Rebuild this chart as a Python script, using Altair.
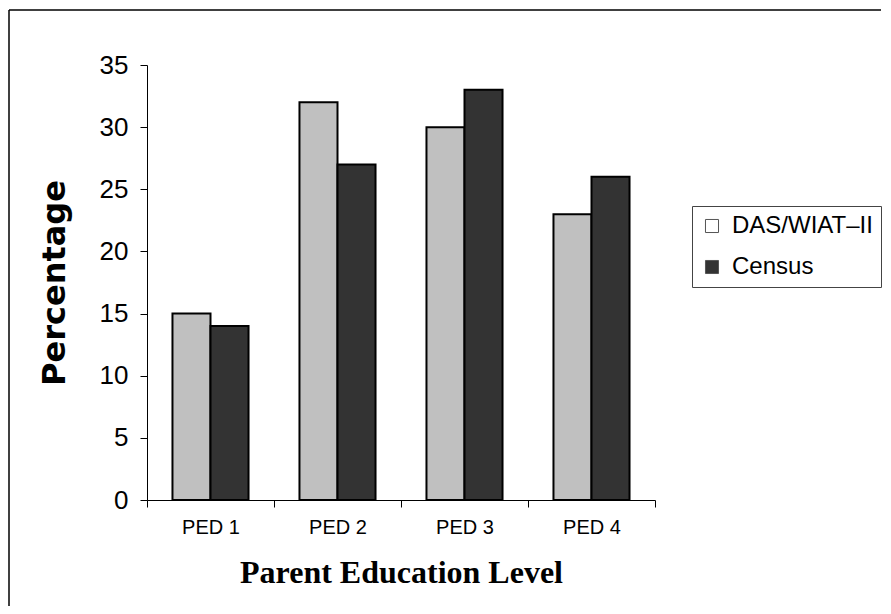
import altair as alt
import pandas as pd

levels = ["PED 1", "PED 2", "PED 3", "PED 4"]
series = ["DAS/WIAT–II", "Census"]
das_wiat = [15, 32, 30, 23]
census = [14, 27, 33, 26]
y_ticks = [0, 5, 10, 15, 20, 25, 30, 35]

rows = []
for i, lv in enumerate(levels):
    rows.append({"level": lv, "series": series[0], "value": das_wiat[i]})
    rows.append({"level": lv, "series": series[1], "value": census[i]})
df = pd.DataFrame(rows)

bars = alt.Chart(df).mark_bar(stroke="black", strokeWidth=2).encode(
    x=alt.X("level:N", sort=levels, title="Parent Education Level",
            scale=alt.Scale(paddingInner=0, paddingOuter=0),
            axis=alt.Axis(labelAngle=0, tickBand="extent", labelFont="Liberation Sans",
                          labelFontSize=20, labelColor="black", labelPadding=10,
                          tickSize=7, tickColor="black", domainColor="black",
                          titleFont="Liberation Serif", titleFontSize=32,
                          titleFontWeight="bold", titleColor="black", titlePadding=20)),
    xOffset=alt.XOffset("series:N", sort=series,
                        scale=alt.Scale(paddingInner=0, paddingOuter=0.67)),
    y=alt.Y("value:Q", title="Percentage",
            scale=alt.Scale(domain=[0, 35], nice=False),
            axis=alt.Axis(values=y_ticks, grid=False, labelFont="Liberation Sans",
                          labelFontSize=26, labelColor="black", labelPadding=12,
                          tickSize=7, tickColor="black", domainColor="black",
                          titleFont="DejaVu Sans", titleFontSize=32, titleFontWeight="bold",
                          titleColor="black", titlePadding=28)),
    fill=alt.Fill("series:N", sort=series,
                  scale=alt.Scale(range=["#c0c0c0", "#333333"]),
                  legend=None),
)

# legend-only layer (no rows drawn): white / dark swatches as in the reference key
legend_layer = alt.Chart(df).transform_filter("datum.value < 0").mark_square(
    filled=True, opacity=1, stroke="#555555", strokeWidth=1
).encode(
    color=alt.Color("series:N", sort=series,
                    scale=alt.Scale(domain=series, range=["white", "#333333"]),
                    legend=alt.Legend(title=None, orient="none", legendX=545, legendY=141,
                                      direction="vertical", fillColor="white",
                                      labelFont="Liberation Sans", labelFontSize=24,
                                      labelColor="black", symbolType="square",
                                      symbolSize=170, labelOffset=8, symbolOpacity=1,
                                      symbolStrokeColor="#555555", symbolStrokeWidth=1)),
)

frame_data = pd.DataFrame({"k": [0]})
frame_top = alt.Chart(frame_data).mark_rule(color="black", strokeWidth=1.5).encode(
    x=alt.value(-138), x2=alt.value(734), y=alt.value(-55))
frame_left = alt.Chart(frame_data).mark_rule(color="black", strokeWidth=1.5).encode(
    x=alt.value(-138), y=alt.value(-55), y2=alt.value(560))

chart = alt.layer(bars, legend_layer, frame_top, frame_left).properties(
    width=508, height=435,
    background="white",
    autosize=alt.AutoSizeParams(type="none"),
    padding={"left": 139, "top": 57, "right": 228, "bottom": 106},
).configure_view(strokeWidth=0).configure_legend(
    strokeColor="#444444", padding=8, rowPadding=17
)

chart.save("out.html", embed_options={"renderer": "svg", "actions": False})
